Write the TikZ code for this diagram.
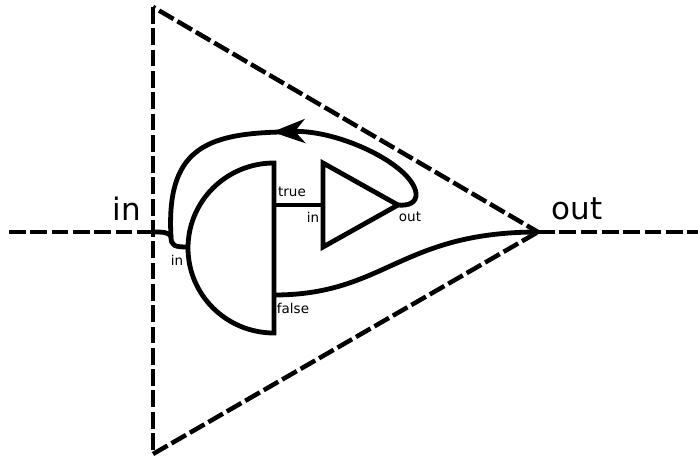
\documentclass[tikz,border=0pt]{standalone}
\usepackage{fontspec}
\setmainfont{DejaVu Sans}
\usetikzlibrary{arrows.meta}
\tikzset{
  boundary/.style={line width=4.5pt, dash pattern=on 16.8pt off 4.5pt},
  wire/.style={line width=4.8pt},
  biglabel/.style={font=\fontsize{31}{31}\selectfont, inner sep=0pt},
  smalllabel/.style={font=\fontsize{13.5}{14}\selectfont, inner sep=0pt}
}
\begin{document}
\begin{tikzpicture}[x=1pt, y=-1pt]
    \useasboundingbox (0,0) rectangle (698,456);

    % Puntos de la caja exterior
    \coordinate (boxtop) at (153,7);
    \coordinate (boxbottom) at (153,454);
    \coordinate (boxtip) at (538,232);
    \coordinate (inend) at (9,232);
    \coordinate (inport) at (153,232);
    \coordinate (outend) at (698,232);

    % Caja exterior y entrada/salida
    \draw[boundary] (boxtop) -- (boxbottom);
    \draw[boundary, dash phase=14.3pt] (boxtop) -- (boxtip);
    \draw[boundary] (boxbottom) -- (boxtip);
    \draw[boundary] (inend) -- (inport);
    \draw[boundary] (boxtip) -- (outend);

    % Puerta de decision
    \coordinate (gatetop) at (274,163);
    \coordinate (gatebottom) at (274,333);
    \coordinate (gatein) at (188,247);
    \coordinate (gatetrue) at (274,205);
    \coordinate (gatefalse) at (274,295);
    \draw[wire, line join=miter] (gatetop) arc[start angle=90, end angle=270, x radius=86pt, y radius=85pt] -- cycle;

    % Triangulo interior
    \coordinate (tritop) at (323,163);
    \coordinate (tribottom) at (323,247);
    \coordinate (triin) at (323,205);
    \coordinate (triout) at (398,205);
    \draw[wire] (tritop) -- (triout) -- (tribottom) -- cycle;

    % Cables
    \coordinate (loophead) at (272,132);
    \coordinate (loopback) at (280,132);
    \coordinate (loopjoin) at (171,237);
    \draw[wire] (gatetrue) -- (triin);
    \draw[wire] (inport) .. controls (162,232) and (170,232) .. (loopjoin)
        .. controls (171,246) and (175,247) .. (gatein);
    \draw[wire, -{Stealth[length=33pt, width=24pt, inset=10pt]}] (triout)
        .. controls (408,206) and (417,203) .. (416,193)
        .. controls (412,165) and (340,130) .. (loophead);
    \draw[wire] (loopback) .. controls (205,134) and (166,150) .. (loopjoin);
    \draw[wire] (gatefalse) .. controls (385,295) and (400,232) .. (boxtip);

    % Etiquetas
    \node[biglabel] (inlabel) at (127,209) {in};
    \node[biglabel] (outlabel) at (577,209) {out};
    \node[smalllabel] (gateinlabel) at (177,260) {in};
    \node[smalllabel] (truelabel) at (292,192) {true};
    \node[smalllabel] (falselabel) at (293,308) {false};
    \node[smalllabel] (triinlabel) at (313,217) {in};
    \node[smalllabel] (trioutlabel) at (410,217) {out};
\end{tikzpicture}
\end{document}
